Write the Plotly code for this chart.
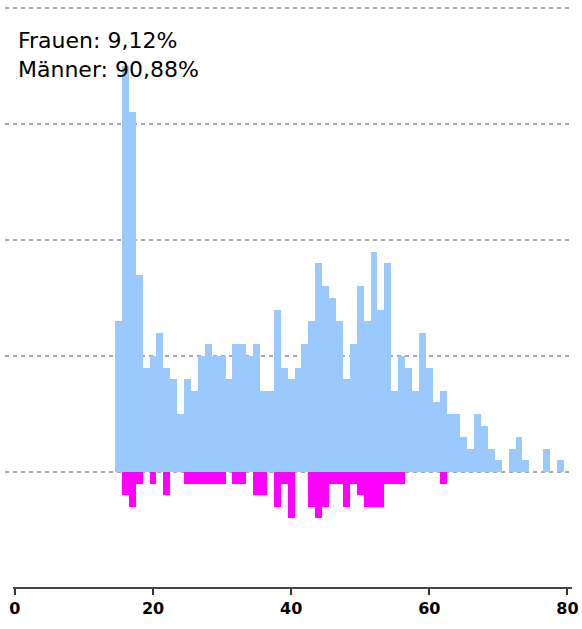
import plotly.graph_objects as go

ages = list(range(15, 80))
maenner = [13, 35, 31, 17, 9, 10, 12, 9, 8, 5,
           8, 7, 10, 11, 10, 10, 8, 11, 11, 10,
           11, 7, 7, 14, 9, 8, 9, 11, 13, 18,
           16, 15, 13, 8, 11, 16, 13, 19, 14, 18,
           7, 10, 9, 7, 12, 9, 6, 7, 5, 5,
           3, 2, 5, 4, 2, 1, 0, 2, 3, 1,
           0, 0, 2, 0, 1]
frauen = [0, 2, 3, 1, 0, 1, 0, 2, 0, 0,
          1, 1, 1, 1, 1, 1, 0, 1, 1, 0,
          2, 2, 0, 3, 1, 4, 0, 0, 3, 4,
          3, 1, 1, 3, 1, 2, 3, 3, 3, 1,
          1, 1, 0, 0, 0, 0, 0, 1, 0, 0,
          0, 0, 0, 0, 0, 0, 0, 0, 0, 0,
          0, 0, 0, 0, 0]
x_ticks = [0, 20, 40, 60, 80]

total = sum(maenner) + sum(frauen)
pct_f = 100 * sum(frauen) / total
pct_m = 100 * sum(maenner) / total
label = ("Frauen: " + f"{pct_f:.2f}".replace(".", ",") + "%<br>"
         + "Männer: " + f"{pct_m:.2f}".replace(".", ",") + "%")

fig = go.Figure()
fig.add_trace(go.Bar(x=ages, y=maenner, marker=dict(color="#99c9ff", line=dict(width=0)),
                     width=1, hoverinfo="x+y"))
fig.add_trace(go.Bar(x=ages, y=[-v for v in frauen], marker=dict(color="#ff00ff", line=dict(width=0)),
                     width=1, hoverinfo="x+y"))

fig.update_layout(
    width=582, height=629,
    margin=dict(l=5, r=10, t=0, b=41),
    paper_bgcolor="white", plot_bgcolor="white",
    barmode="overlay", bargap=0,
    showlegend=False,
    font=dict(family="DejaVu Sans", color="black"),
    xaxis=dict(range=[-1.43, 80.67], showgrid=False, zeroline=False, showline=False,
               tickvals=x_ticks, ticks="outside", ticklen=6, tickwidth=2, tickcolor="#333",
               tickfont=dict(family="DejaVu Sans", size=16, color="black", weight="bold")),
    yaxis=dict(range=[-10, 40.69], dtick=10, tick0=0, showticklabels=False,
               zeroline=False, showline=False, showgrid=True,
               gridcolor="#a8a8a8", gridwidth=2, griddash="4px,4px"),
    shapes=[dict(type="line", xref="paper", yref="paper", x0=0.0141, x1=1, y0=0, y1=0,
                 line=dict(color="#444", width=2))],
    annotations=[dict(text=label, xref="paper", yref="paper", x=0.019, y=0.955,
                      xanchor="left", yanchor="top", align="left", showarrow=False,
                      font=dict(family="DejaVu Sans", size=22, color="black"))],
)

fig.write_html("out.html", config={"displayModeBar": False},
               post_script="document.body.style.margin='0';document.body.style.overflow='hidden';")
